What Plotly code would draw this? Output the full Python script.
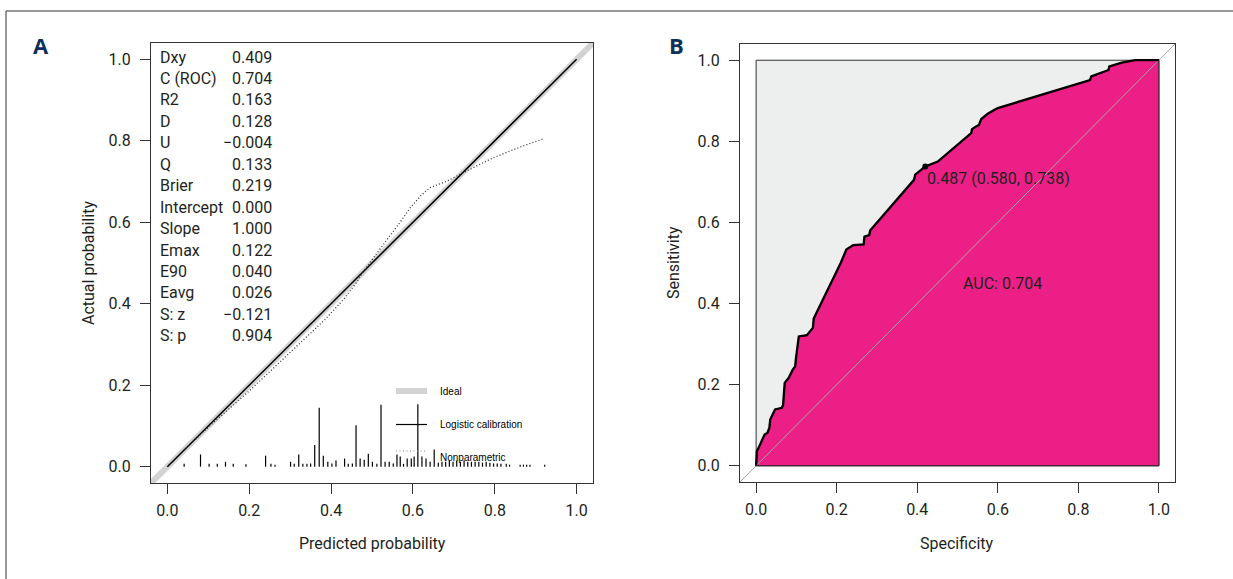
import plotly.graph_objects as go

# ---------------- data ----------------
# Panel A: calibration statistics
stat_names = ["Dxy", "C (ROC)", "R2", "D", "U", "Q", "Brier", "Intercept", "Slope",
              "Emax", "E90", "Eavg", "S: z", "S: p"]
stat_values = ["0.409", "0.704", "0.163", "0.128", "\u22120.004", "0.133", "0.219", "0.000",
               "1.000", "0.122", "0.040", "0.026", "\u22120.121", "0.904"]

# logistic calibration line (intercept 0, slope 1)
logit_x = [0.0, 1.0]
logit_y = [0.0, 1.0]

# nonparametric (loess) calibration curve
np_x = [0.04, 0.10, 0.20, 0.30, 0.385, 0.43, 0.462, 0.483, 0.515, 0.544, 0.57, 0.593,
        0.62, 0.642, 0.665, 0.683, 0.724, 0.76, 0.789, 0.83, 0.871, 0.92]
np_y = [0.04, 0.097, 0.186, 0.28, 0.361, 0.41, 0.452, 0.485, 0.528, 0.565, 0.602, 0.635,
        0.666, 0.685, 0.695, 0.701, 0.722, 0.740, 0.755, 0.772, 0.788, 0.805]

# spike histogram of predicted probabilities
spike_x = [0.041, 0.081, 0.102, 0.122, 0.142, 0.161, 0.192, 0.240, 0.253, 0.263, 0.301,
           0.310, 0.321, 0.331, 0.341, 0.350, 0.360, 0.371, 0.381, 0.392, 0.402, 0.412,
           0.433, 0.442, 0.452, 0.461, 0.471, 0.481, 0.491, 0.501, 0.512, 0.522, 0.532,
           0.542, 0.552, 0.561, 0.569, 0.577, 0.586, 0.596, 0.603, 0.612, 0.622, 0.632,
           0.642, 0.652, 0.662, 0.671, 0.680, 0.689, 0.698, 0.707, 0.716, 0.725, 0.734,
           0.743, 0.752, 0.761, 0.770, 0.779, 0.788, 0.797, 0.806, 0.815, 0.828, 0.836,
           0.862, 0.870, 0.878, 0.886, 0.922]
spike_h = [0.007, 0.030, 0.007, 0.007, 0.012, 0.007, 0.006, 0.027, 0.007, 0.005, 0.012,
           0.007, 0.030, 0.007, 0.007, 0.008, 0.053, 0.145, 0.027, 0.012, 0.008, 0.015,
           0.020, 0.007, 0.008, 0.102, 0.020, 0.017, 0.032, 0.012, 0.007, 0.152, 0.012,
           0.012, 0.008, 0.030, 0.025, 0.007, 0.020, 0.020, 0.025, 0.153, 0.025, 0.020,
           0.012, 0.042, 0.010, 0.012, 0.012, 0.015, 0.012, 0.015, 0.012, 0.015, 0.012,
           0.012, 0.012, 0.012, 0.010, 0.012, 0.010, 0.008, 0.008, 0.007, 0.007, 0.005,
           0.005, 0.005, 0.005, 0.005, 0.005]

legend_labels = ["Ideal", "Logistic calibration", "Nonparametric"]

# Panel B: ROC curve
roc_x = [0, 0.002, 0.007, 0.021, 0.028, 0.033, 0.035, 0.047, 0.064, 0.067, 0.071, 0.081,
         0.091, 0.097, 0.099, 0.106, 0.126, 0.141, 0.143, 0.210, 0.224, 0.241, 0.267,
         0.269, 0.281, 0.283, 0.392, 0.395, 0.42, 0.451, 0.534, 0.536, 0.545, 0.553,
         0.559, 0.575, 0.592, 0.600, 0.829, 0.832, 0.875, 0.877, 0.908, 0.941, 1.0]
roc_y = [0, 0.036, 0.046, 0.077, 0.081, 0.094, 0.114, 0.139, 0.143, 0.150, 0.204, 0.217,
         0.237, 0.245, 0.266, 0.319, 0.322, 0.340, 0.363, 0.500, 0.533, 0.544, 0.546,
         0.565, 0.569, 0.580, 0.705, 0.718, 0.738, 0.750, 0.820, 0.830, 0.836, 0.840,
         0.855, 0.868, 0.878, 0.882, 0.951, 0.960, 0.976, 0.985, 0.994, 1.0, 1.0]
best_threshold = 0.487
best_spec = 0.580
best_sens = 0.738
auc_value = 0.704

tick_vals = [0.0, 0.2, 0.4, 0.6, 0.8, 1.0]

# ---------------- layout helpers ----------------
W, H = 1233, 579
FONT = "Roboto, Liberation Sans, sans-serif"
FS = 16
TXT = "#231f20"
AX = "#333333"
RNG = [-0.04, 1.04]

A_box = (151, 593, 43, 483)   # left, right, top, bottom in px
B_box = (740, 1175, 44, 482)


def dom(box):
    l, r, t, b = box
    return [l / W, r / W], [1 - b / H, 1 - t / H]


def ax_x(box, px):
    l, r, _, _ = box
    return RNG[0] + (px - l) / (r - l) * (RNG[1] - RNG[0])


def ax_y(box, py):
    _, _, t, b = box
    return RNG[0] + (b - py) / (b - t) * (RNG[1] - RNG[0])


fig = go.Figure()

# ---------- Panel A ----------
fig.add_trace(go.Scatter(x=RNG, y=RNG, mode="lines",
                         line=dict(color="#d3d3d3", width=6), xaxis="x", yaxis="y",
                         hoverinfo="skip"))
fig.add_trace(go.Scatter(x=logit_x, y=logit_y, mode="lines",
                         line=dict(color="black", width=1.5), xaxis="x", yaxis="y"))
fig.add_trace(go.Scatter(x=np_x, y=np_y, mode="lines",
                         line=dict(color="#333333", width=1.3, dash="1px,2.2px"),
                         xaxis="x", yaxis="y"))
sx, sy = [], []
for xv, hv in zip(spike_x, spike_h):
    sx += [xv, xv, None]
    sy += [0, hv, None]
fig.add_trace(go.Scatter(x=sx, y=sy, mode="lines", line=dict(color="black", width=1.2),
                         xaxis="x", yaxis="y"))

# legend (manual, inside panel A)
leg_x0, leg_x1 = ax_x(A_box, 396), ax_x(A_box, 427)
leg_tx = ax_x(A_box, 438)
leg_rows = [391, 424.5, 451]
fig.add_trace(go.Scatter(x=[leg_x0, leg_x1], y=[ax_y(A_box, leg_rows[0])] * 2, mode="lines",
                         line=dict(color="#d3d3d3", width=6), xaxis="x", yaxis="y"))
fig.add_trace(go.Scatter(x=[leg_x0, leg_x1], y=[ax_y(A_box, leg_rows[1])] * 2, mode="lines",
                         line=dict(color="black", width=1.2), xaxis="x", yaxis="y"))
fig.add_trace(go.Scatter(x=[leg_x0, leg_x1], y=[ax_y(A_box, leg_rows[2])] * 2, mode="lines",
                         line=dict(color="#888888", width=1, dash="1px,2.5px"),
                         xaxis="x", yaxis="y"))
for lab, py in zip(legend_labels, [391, 424.5, 457]):
    fig.add_annotation(x=leg_tx, y=ax_y(A_box, py), xref="x", yref="y", text=lab,
                       showarrow=False, xanchor="left", yanchor="middle",
                       font=dict(family="Liberation Sans, Arial, sans-serif", size=10,
                                 color="black"))

# statistics block
for i, (nm, val) in enumerate(zip(stat_names, stat_values)):
    py = 57 + i * 21.45
    fig.add_annotation(x=ax_x(A_box, 158), y=ax_y(A_box, py), xref="x", yref="y", text=nm,
                       showarrow=False, xanchor="left", yanchor="middle",
                       font=dict(family=FONT, size=FS, color=TXT))
    fig.add_annotation(x=ax_x(A_box, 274), y=ax_y(A_box, py), xref="x", yref="y", text=val,
                       showarrow=False, xanchor="right", yanchor="middle",
                       font=dict(family=FONT, size=FS, color=TXT))

# ---------- Panel B ----------
fig.add_trace(go.Scatter(x=[0, 0, 1, 1, 0], y=[0, 1, 1, 0, 0], mode="lines", fill="toself",
                         fillcolor="#edeeee", line=dict(color="#333333", width=1),
                         xaxis="x2", yaxis="y2"))
fig.add_trace(go.Scatter(x=roc_x + [1, 0], y=roc_y + [0, 0], mode="lines", fill="toself",
                         fillcolor="#ec1f87", line=dict(color="#222222", width=1),
                         xaxis="x2", yaxis="y2"))
fig.add_trace(go.Scatter(x=RNG, y=RNG, mode="lines", line=dict(color="#a8a8a8", width=1),
                         xaxis="x2", yaxis="y2"))
fig.add_trace(go.Scatter(x=roc_x, y=roc_y, mode="lines", line=dict(color="black", width=2.3),
                         xaxis="x2", yaxis="y2"))
fig.add_trace(go.Scatter(x=[1 - best_spec], y=[best_sens], mode="markers",
                         marker=dict(color="black", size=6), xaxis="x2", yaxis="y2"))
fig.add_annotation(x=1 - best_spec, y=best_sens, xref="x2", yref="y2",
                   text=f"{best_threshold:.3f} ({best_spec:.3f}, {best_sens:.3f})",
                   showarrow=False, xanchor="left", yanchor="top", xshift=0, yshift=-1,
                   font=dict(family=FONT, size=FS, color=TXT))
fig.add_annotation(x=ax_x(B_box, 1002), y=ax_y(B_box, 283), xref="x2", yref="y2",
                   text=f"AUC: {auc_value:.3f}", showarrow=False,
                   font=dict(family=FONT, size=FS, color=TXT))

# ---------- titles / panel letters ----------
def ptext(px, py, text, size=FS, angle=0, bold=False, color=TXT, family=FONT):
    fig.add_annotation(x=px / W, y=1 - py / H, xref="paper", yref="paper", text=text,
                       showarrow=False, textangle=angle, xanchor="center", yanchor="middle",
                       font=dict(family=family, size=size, color=color,
                                 weight="bold" if bold else "normal"))

ptext(372, 543, "Predicted probability")
ptext(88, 263, "Actual probability", angle=-90)
ptext(957, 543, "Specificity")
ptext(673, 263, "Sensitivity", angle=-90)
ptext(41, 45, "A", size=22, bold=True, color="#10305c", family="Open Sans, Arial, sans-serif")
ptext(676, 45, "B", size=22, bold=True, color="#10305c", family="Open Sans, Arial, sans-serif")

# figure frame (top and left edges visible)
fig.add_shape(type="line", xref="paper", yref="paper", x0=6 / W, x1=1.0, y0=1 - 11 / H,
              y1=1 - 11 / H, line=dict(color="#333333", width=1))
fig.add_shape(type="line", xref="paper", yref="paper", x0=6 / W, x1=6 / W, y0=0,
              y1=1 - 11 / H, line=dict(color="#333333", width=1))

axis_common = dict(range=RNG, showgrid=False, zeroline=False, showline=True, mirror=True,
                   linecolor=AX, linewidth=1, ticks="outside", ticklen=10, tickcolor=AX,
                   tickwidth=1, tickvals=tick_vals, tickformat=".1f",
                   tickfont=dict(family=FONT, size=FS, color=TXT))

xa, ya = dom(A_box)
xb, yb = dom(B_box)
fig.update_layout(
    width=W, height=H, margin=dict(l=0, r=0, t=0, b=0),
    paper_bgcolor="white", plot_bgcolor="white", showlegend=False,
    xaxis=dict(domain=xa, anchor="y", ticklabelstandoff=3, **axis_common),
    yaxis=dict(domain=ya, anchor="x", ticklabelstandoff=6, **axis_common),
    xaxis2=dict(domain=xb, anchor="y2", ticklabelstandoff=3, **axis_common),
    yaxis2=dict(domain=yb, anchor="x2", ticklabelstandoff=6, **axis_common),
)

fig.write_html("out.html", config={"displayModeBar": False},
               post_script="document.body.style.margin='0';document.body.style.padding='0';")
